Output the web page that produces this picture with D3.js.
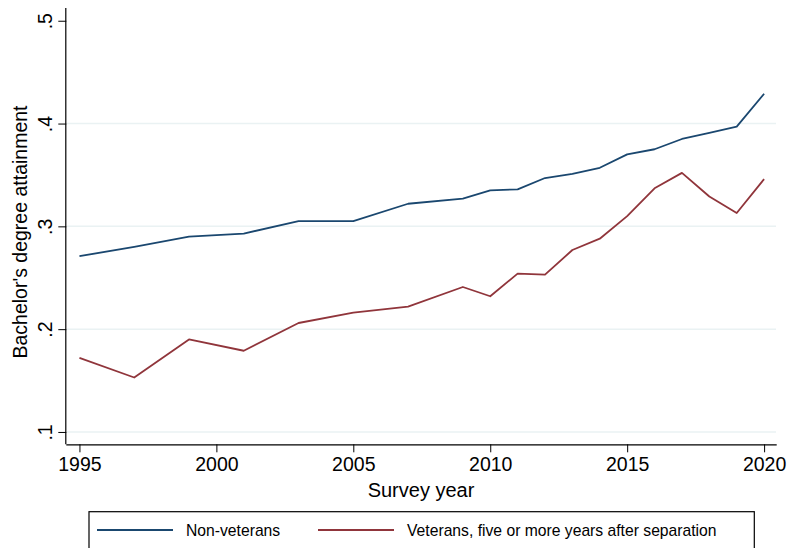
<!DOCTYPE html>
<html><head><meta charset="utf-8">
<script src="https://cdn.jsdelivr.net/npm/d3@7"></script>
<style>body{margin:0;background:#fff}svg{display:block}text{font-family:"Liberation Sans",Arial,Helvetica,sans-serif;fill:#000}</style>
</head><body>
<svg id="c" width="788" height="548"></svg>
<script>
const years = [1995,1997,1999,2001,2003,2005,2007,2009,2010,2011,2012,2013,2014,2015,2016,2017,2018,2019,2020];
const nonVeterans = [0.271,0.280,0.290,0.293,0.305,0.305,0.322,0.327,0.335,0.336,0.347,0.351,0.357,0.370,0.375,0.385,0.391,0.397,0.429];
const veterans = [0.172,0.153,0.190,0.179,0.206,0.216,0.222,0.241,0.232,0.254,0.253,0.277,0.288,0.310,0.337,0.352,0.329,0.313,0.346];
const xTicks = [1995,2000,2005,2010,2015,2020];
const yTicks = [0.1,0.2,0.3,0.4,0.5];
const yTickLabels = [".1",".2",".3",".4",".5"];
const seriesNames = ["Non-veterans","Veterans, five or more years after separation"];
const colors = ["#1a476f","#90353b"];

const svg = d3.select("#c");
const x = d3.scaleLinear().domain([1994.52,2020.46]).range([66.3,776.7]);
const y = d3.scaleLinear().domain([0.088,0.5124]).range([444.3,8]);

// grid
svg.append("g").selectAll("line").data(yTicks.slice(0,4)).join("line")
  .attr("x1",67).attr("x2",776).attr("y1",d=>y(d)).attr("y2",d=>y(d))
  .attr("stroke","#eaf2f3").attr("stroke-width",1.5);

// lines
const line = d3.line().x((d,i)=>x(years[i])).y(d=>y(d));
[nonVeterans,veterans].forEach((s,k)=>{
  svg.append("path").datum(s).attr("d",line).attr("fill","none")
    .attr("stroke",colors[k]).attr("stroke-width",1.8).attr("stroke-linejoin","round");
});

// x axis
const xa = svg.append("g").attr("transform","translate(0,444.3)")
  .call(d3.axisBottom(x).tickValues(xTicks).tickFormat(d3.format("d")).tickSize(8).tickPadding(5));
xa.select(".domain").attr("stroke","#000").attr("stroke-width",1.2).attr("d","M66.3,0.5H776.7");
xa.selectAll(".tick line").attr("stroke","#000").attr("stroke-width",1);
xa.selectAll(".tick text").attr("font-size","19.5px").attr("dy","0.71em").attr("font-family","Liberation Sans, Arial, sans-serif");

// y axis
const ya = svg.append("g").attr("transform","translate(66.3,0)")
  .call(d3.axisLeft(y).tickValues(yTicks).tickFormat((d,i)=>yTickLabels[i]).tickSize(8));
ya.select(".domain").attr("stroke","#000").attr("stroke-width",1.2).attr("d","M-0.5,8V444.3");
ya.selectAll(".tick line").attr("stroke","#000").attr("stroke-width",1);
ya.selectAll(".tick text").attr("font-size","19.5px").attr("x",null).attr("dy",null)
  .attr("text-anchor","middle").attr("font-family","Liberation Sans, Arial, sans-serif")
  .attr("transform","translate(-14,0) rotate(-90)");

// titles
svg.append("text").attr("x",421).attr("y",497).attr("text-anchor","middle")
  .attr("font-size","20px").text("Survey year");
svg.append("text").attr("transform","translate(27,232) rotate(-90)").attr("text-anchor","middle")
  .attr("font-size","19.5px").text("Bachelor's degree attainment");

// legend
svg.append("rect").attr("x",89).attr("y",511.7).attr("width",665.3).attr("height",60)
  .attr("fill","#fff").attr("stroke","#000").attr("stroke-width",1.2);
const lx = [97,318];
seriesNames.forEach((n,k)=>{
  svg.append("line").attr("x1",lx[k]).attr("x2",lx[k]+76).attr("y1",530).attr("y2",530)
    .attr("stroke",colors[k]).attr("stroke-width",1.8);
  svg.append("text").attr("x",lx[k]+89).attr("y",535.6).attr("font-size","15.7px").text(n);
});
</script>
</body></html>
